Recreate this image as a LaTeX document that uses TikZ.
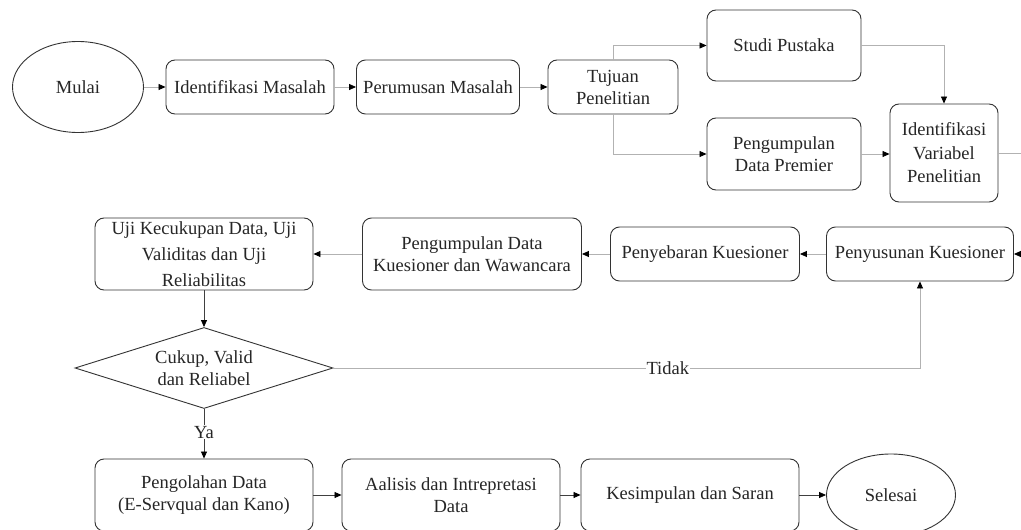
\documentclass[tikz,border=0pt]{standalone}
\usepackage{fontspec}
\setmainfont{Liberation Serif}
\usetikzlibrary{arrows.meta,shapes.geometric}
\begin{document}
\begin{tikzpicture}[x=1pt,y=-1pt,
  every node/.style={font=\fontsize{18.5}{22}\selectfont, text=black!85},
  box/.style={draw=black!80, line width=0.9pt, rounded corners=9pt, align=center, inner sep=0pt},
  oval/.style={draw=black!80, line width=0.9pt, ellipse, inner sep=0pt},
  dia/.style={draw=black!80, line width=0.9pt, diamond, aspect=3.2, inner sep=0pt, align=center},
  conn/.style={draw=gray!60, line width=0.8pt, -{Triangle[black,length=7pt,width=6pt]}},
  connd/.style={draw=black!75, line width=0.8pt, -{Triangle[black,length=7pt,width=6pt]}},
  lbl/.style={fill=white, inner sep=1pt}]
\useasboundingbox[fill=white] (0,0) rectangle (1021,530);

% top row
\node[oval, minimum width=131pt, minimum height=91pt] (mulai) at (78,87) {Mulai};
\node[box, minimum width=168pt, minimum height=54pt] (im) at (250,87) {Identifikasi Masalah};
\node[box, minimum width=163pt, minimum height=54pt] (pm) at (438,87) {Perumusan Masalah};
\node[box, minimum width=130pt, minimum height=54pt] (tp) at (613,87) {Tujuan\\Penelitian};
\node[box, minimum width=154pt, minimum height=71pt] (sp) at (784,45.5) {Studi Pustaka};
\node[box, minimum width=154pt, minimum height=72pt] (pdp) at (784,154) {Pengumpulan\\Data Premier};
\node[box, minimum width=108pt, minimum height=98pt, font=\fontsize{18.5}{23.5}\selectfont] (iv) at (944,153) {Identifikasi\\Variabel\\Penelitian};

% second row
\node[box, minimum width=187pt, minimum height=54pt] (pk) at (920,254) {Penyusunan Kuesioner};
\node[box, minimum width=189pt, minimum height=54pt] (pkue) at (705,254) {Penyebaran Kuesioner};
\node[box, minimum width=219pt, minimum height=72pt] (pdk) at (472,254) {Pengumpulan Data\\Kuesioner dan Wawancara};
\node[box, minimum width=218pt, minimum height=72pt, font=\fontsize{18.5}{26}\selectfont] (uji) at (204,254) {Uji Kecukupan Data, Uji\\Validitas dan Uji\\Reliabilitas};

% decision
\node[dia, minimum width=258pt, minimum height=81pt] (dia) at (204,368) {Cukup, Valid\\dan Reliabel};

% bottom row
\node[box, minimum width=218pt, minimum height=72pt] (pd) at (204,495) {Pengolahan Data\\(E-Servqual dan Kano)};
\node[box, minimum width=218pt, minimum height=72pt] (aa) at (451,495) {Aalisis dan Intrepretasi\\Data};
\node[box, minimum width=218pt, minimum height=72pt] (ks) at (690,495) {Kesimpulan dan Saran};
\node[oval, minimum width=129pt, minimum height=82pt] (sel) at (891,495) {Selesai};

\coordinate (e1) at (1021,153);
\coordinate (e2) at (1021,254);

% connectors
\draw[conn] (mulai) -- (im);
\draw[conn] (im) -- (pm);
\draw[conn] (pm) -- (tp);
\draw[conn] (tp.north) |- (sp.west);
\draw[conn] (tp.south) |- (pdp.west);
\draw[conn] (sp.east) -| (iv.north);
\draw[conn] (pdp.east) -- (pdp.east -| iv.west);
\draw[draw=gray!60, line width=0.8pt] (iv.east |- e1) -- (e1);
\draw[connd] (e2) -- (pk.east);
\draw[conn] (pk) -- (pkue);
\draw[conn] (pkue) -- (pkue -| pdk.east);
\draw[conn] (pdk) -- (uji);
\draw[connd] (uji) -- (dia);
\draw[conn] (dia.east) -- node[lbl, pos=0.57] {Tidak} (dia.east -| pk.south) -- (pk.south);
\draw[connd] (dia.south) -- node[lbl, pos=0.47] {Ya} (pd.north);
\draw[connd] (pd) -- (aa);
\draw[connd] (aa) -- (ks);
\draw[connd] (ks) -- (sel);
\end{tikzpicture}
\end{document}
